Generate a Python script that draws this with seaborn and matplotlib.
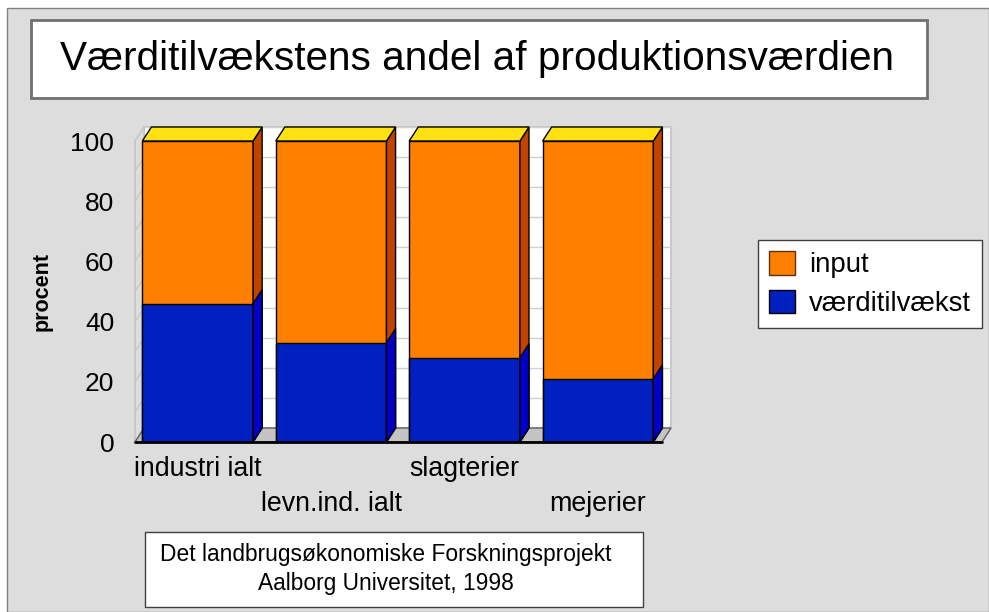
import numpy as np
import pandas as pd
import seaborn as sns
import matplotlib.pyplot as plt
from matplotlib.patches import Polygon, Rectangle, Patch

# data (percent of production value)
categories = ["industri ialt", "levn.ind. ialt", "slagterier", "mejerier"]
tick_labels = ["industri ialt", "\nlevn.ind. ialt", "slagterier", "\nmejerier"]
vaerditilvaekst = [46, 33, 28, 21]
input_share = [54, 67, 72, 79]
yticks = [0, 20, 40, 60, 80, 100]
grid_steps = list(range(0, 101, 10))

sns.set_theme(style="white")
plt.rcParams["font.family"] = ["Liberation Sans", "DejaVu Sans"]
plt.rcParams["text.color"] = "black"

df = pd.DataFrame({"kategori": categories,
                   "vaerditilvaekst": vaerditilvaekst,
                   "input": input_share})
df["total"] = df["vaerditilvaekst"] + df["input"]

ORANGE, ORANGE_SIDE = "#ff8000", "#c04400"
BLUE, BLUE_SIDE = "#0020c0", "#0000c8"
TOP = "#ffe010"
BG = "#dddddd"

fig = plt.figure(figsize=(9.89, 6.12), dpi=100)
fig.patch.set_facecolor("white")
fig.patches.append(Rectangle((7 / 989, 0), 982 / 989, 604 / 612, transform=fig.transFigure,
                             facecolor=BG, edgecolor="#808080", lw=1, zorder=-2))

ax = fig.add_axes([135 / 989, 170 / 612, 527 / 989, 301 / 612])
ax.set_zorder(2)
ax.patch.set_alpha(0)

x0, x1 = -0.47, 3.48
DX, DY = 0.068, 4.65  # depth offset of the 3D look

# back wall + grid
ax.add_patch(Rectangle((x0 + DX, DY), x1 - x0, 100, facecolor="white",
                       edgecolor="#c8c8c8", lw=1.5, zorder=0.5, clip_on=False))
for v in grid_steps:
    ax.plot([x0 + DX, x1 + DX], [v + DY, v + DY], color="#d0d0d0", lw=1,
            zorder=0.6, clip_on=False)
# left wall
ax.add_patch(Polygon([(x0, 0), (x0 + DX, DY), (x0 + DX, 100 + DY), (x0, 100)],
                     facecolor=BG, edgecolor="#c0c0c0", lw=1, zorder=0.5, clip_on=False))
for v in grid_steps:
    ax.plot([x0, x0 + DX], [v, v + DY], color="#c8c8c8", lw=1, zorder=0.6, clip_on=False)
# floor
ax.add_patch(Polygon([(x0, 0), (x1, 0), (x1 + DX, DY), (x0 + DX, DY)],
                     facecolor="#c4c4c4", edgecolor="#606060", lw=1, zorder=0.7, clip_on=False))

sns.barplot(data=df, x="kategori", y="total", color=ORANGE, saturation=1, width=0.83,
            edgecolor="black", linewidth=1, errorbar=None, ax=ax, zorder=2)
sns.barplot(data=df, x="kategori", y="vaerditilvaekst", color=BLUE, saturation=1, width=0.83,
            edgecolor="black", linewidth=1, errorbar=None, ax=ax, zorder=2)

bars = [p for p in ax.patches if isinstance(p, Rectangle) and p.get_zorder() == 2]
n = len(categories)
for i, p in enumerate(bars):
    bx, bw, by, bh = p.get_x(), p.get_width(), p.get_y(), p.get_height()
    side = ORANGE_SIDE if i < n else BLUE_SIDE
    ax.add_patch(Polygon([(bx + bw, by), (bx + bw + DX, by + DY),
                          (bx + bw + DX, by + bh + DY), (bx + bw, by + bh)],
                         facecolor=side, edgecolor="black", lw=1, zorder=2.5 if i < n else 2.6,
                         clip_on=False))
    if i < n:
        ax.add_patch(Polygon([(bx, by + bh), (bx + DX, by + bh + DY),
                              (bx + bw + DX, by + bh + DY), (bx + bw, by + bh)],
                             facecolor=TOP, edgecolor="black", lw=1, zorder=2.5, clip_on=False))

ax.plot([x0, x1], [0, 0], color="black", lw=2, zorder=3, clip_on=False)

ax.set_xlim(x0, x1)
ax.set_ylim(0, 100)
for s in ax.spines.values():
    s.set_visible(False)
ax.set_yticks(yticks)
ax.set_xticks(range(n))
ax.set_xticklabels(tick_labels)
for t in ax.get_xticklabels():
    t.set_linespacing(1.45)
ax.tick_params(axis="y", length=0, pad=15, labelsize=19, labelcolor="black")
ax.tick_params(axis="x", length=0, pad=10, labelsize=19.3, labelcolor="black")
ax.set_xlabel("")
ax.set_ylabel("procent", fontsize=15.5, fontweight="bold", color="black")
ax.yaxis.set_label_coords(-0.156, 0.5)

# title box
fig.patches.append(Rectangle((31 / 989, 514 / 612), 896 / 989, 78 / 612, transform=fig.transFigure,
                             facecolor="white", edgecolor="#707070", lw=2, zorder=1))
fig.text(477 / 989, 1 - 59 / 612, "Værditilvækstens andel af produktionsværdien",
         ha="center", va="center", fontsize=29.2, color="black")

# footer box
fig.patches.append(Rectangle((145 / 989, 5 / 612), 498 / 989, 75 / 612, transform=fig.transFigure,
                             facecolor="white", edgecolor="#404040", lw=1, zorder=1))
fig.text(386 / 989, 1 - 569 / 612,
         "Det landbrugsøkonomiske Forskningsprojekt\nAalborg Universitet, 1998",
         ha="center", va="center", fontsize=16.4, color="black", linespacing=1.3)

handles = [Patch(facecolor=ORANGE, edgecolor="#603000"), Patch(facecolor=BLUE, edgecolor="black")]
leg = fig.legend(handles, ["input", "værditilvækst"], loc="center left",
                 bbox_to_anchor=(758 / 989, 1 - 284 / 612), frameon=True, fancybox=False,
                 fontsize=19.8, handlelength=0.95, handleheight=0.95, handletextpad=0.5,
                 labelspacing=0.4, borderpad=0.4, borderaxespad=0)
for t in leg.get_texts():
    t.set_color("black")
leg.get_frame().set_edgecolor("#404040")
leg.get_frame().set_linewidth(1)
leg.get_frame().set_facecolor("white")
leg.get_frame().set_alpha(1)

fig.savefig("out.png", dpi=100)
